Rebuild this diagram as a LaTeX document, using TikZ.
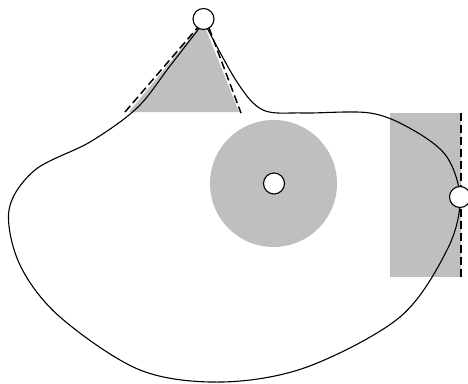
\documentclass[tikz,border=0pt]{standalone}
\begin{document}
\begin{tikzpicture}[x=1pt,y=-1pt,
  shade/.style={fill=black!25,draw=none},
  curve/.style={draw=black,line width=1.1pt},
  tangent/.style={draw=black,line width=1.5pt,dash pattern=on 8pt off 4pt},
  hole/.style={circle,draw=black,fill=white,line width=1.1pt,minimum size=21pt,inner sep=0pt}]
\useasboundingbox (0,0) rectangle (468,383);
% shaded shapes
\fill[black!25] (129,112) -- (203,22) -- (239,112) -- cycle;
\fill[black!25] (273.5,183.5) circle[radius=63.5];
\fill[black!25] (390,113) rectangle (461,277);
% curve
\draw[curve] plot[smooth,tension=0.55] coordinates {
 (204,22) (170,66) (137,108) (90,142) (35,170) (9,210) (20,265) (60,317)
 (140,370) (222,382) (307,367) (400,317) (447,250) (460,200) (447,157)
 (413,130) (370,113) (303,113) (263,110) (237,82) (204,22)};
% tangent lines
\coordinate (t1a) at (125,112);
\coordinate (t1b) at (199,26);
\coordinate (t2a) at (209,28);
\coordinate (t2b) at (241,113);
\coordinate (t3a) at (461,113);
\coordinate (t3b) at (461,277);
\draw[tangent] (t1a) -- (t1b);
\draw[tangent] (t2a) -- (t2b);
\draw[tangent] (t3a) -- (t3b);
% holes
\node[hole] (top) at (203.5,19) {};
\node[hole] (mid) at (274,183.5) {};
\node[hole] (right) at (460,197) {};
\end{tikzpicture}
\end{document}
